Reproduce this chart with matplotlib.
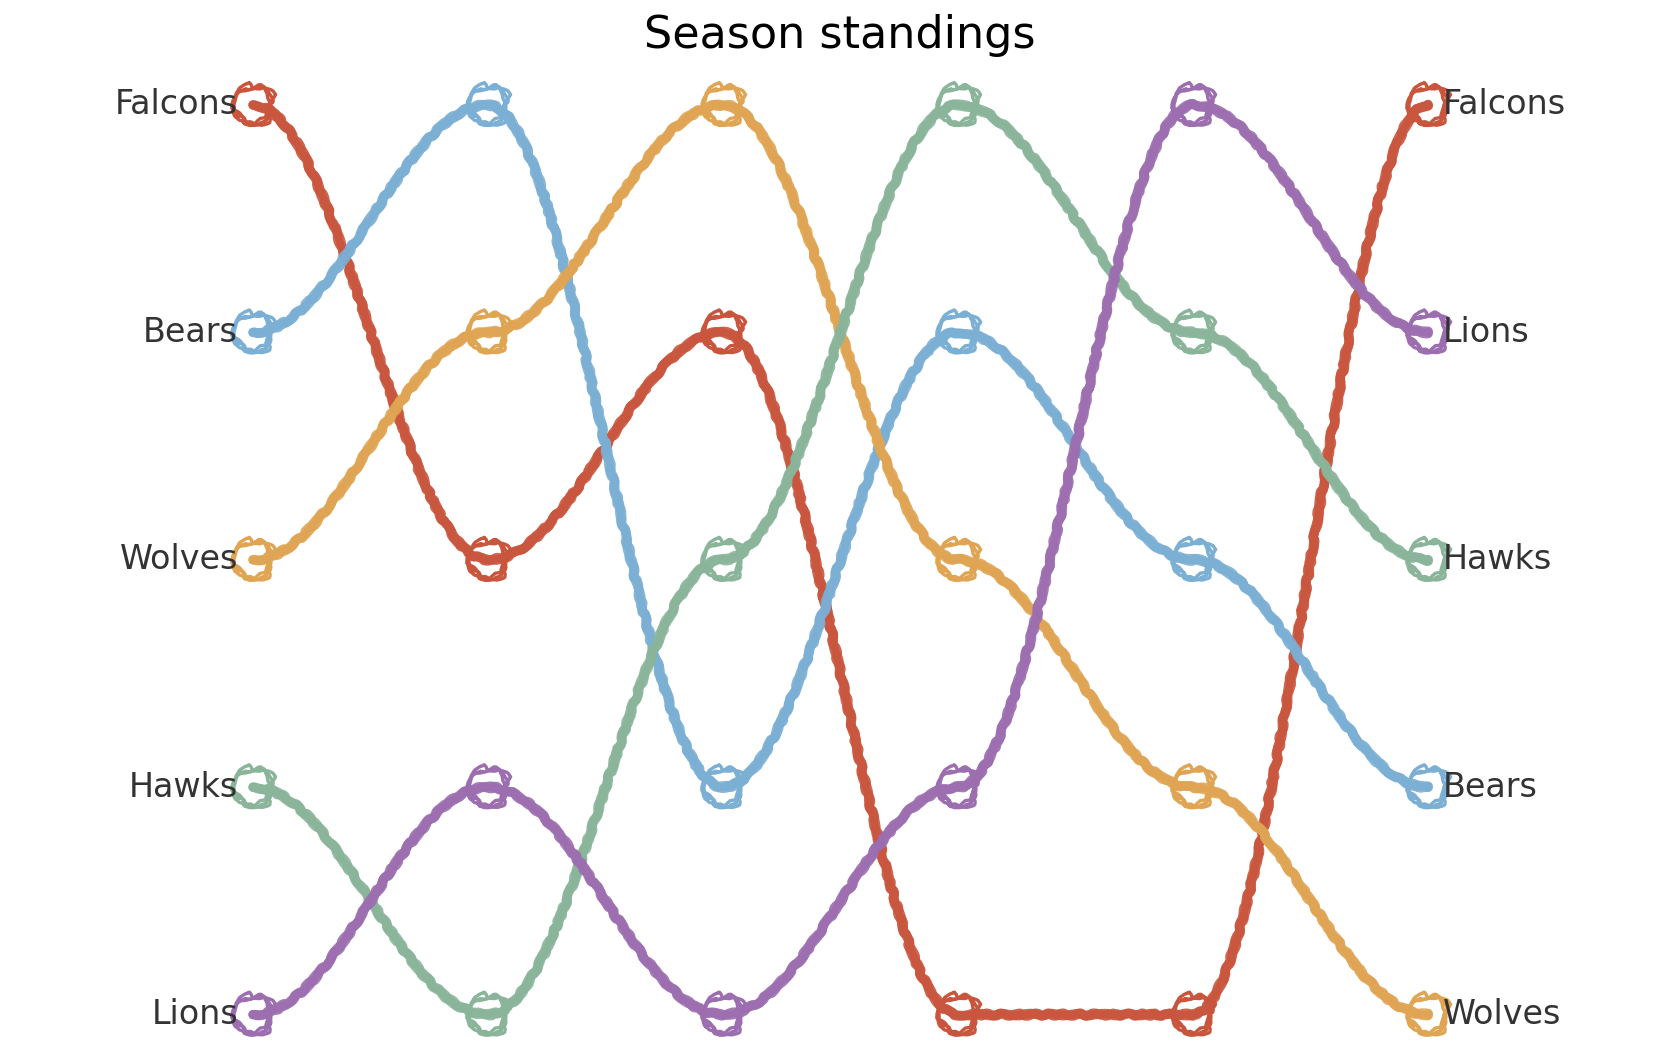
import numpy as np
import matplotlib
matplotlib.use('Agg')
import matplotlib.pyplot as plt

# Standings per round (1 = top)
teams = ['Falcons', 'Bears', 'Wolves', 'Hawks', 'Lions']
rounds = [0, 1, 2, 3, 4, 5]
falcons = [1, 3, 2, 5, 5, 1]
bears = [2, 1, 4, 2, 3, 4]
wolves = [3, 2, 1, 3, 4, 5]
hawks = [4, 5, 3, 1, 2, 3]
lions = [5, 4, 5, 4, 1, 2]
colors = ['#c9553d', '#7bafd4', '#e0a553', '#8ab59a', '#9c6eb0']

ranks = [falcons, bears, wolves, hawks, lions]

plt.rcParams['font.family'] = ['DejaVu Sans']

fig = plt.figure(figsize=(8.4, 5.28), dpi=200)
ax = fig.add_axes([0.0807, 0.0069, 0.8393, 0.926])


def smooth(xs, ys, n=60):
    # cosine easing between consecutive rounds
    out_x, out_y = [], []
    for i in range(len(xs) - 1):
        t = np.linspace(0, 1, n, endpoint=False)
        e = (1 - np.cos(np.pi * t)) / 2
        out_x.extend(xs[i] + (xs[i + 1] - xs[i]) * t)
        out_y.extend(ys[i] + (ys[i + 1] - ys[i]) * e)
    out_x.append(xs[-1])
    out_y.append(ys[-1])
    return out_x, out_y


# hand-drawn look: wobbly double stroke, rough polygon markers
marker_passes = [((5, 0, 10), 270, (3.0, 40, 3)),
                 ((6, 0, 40), 220, (2.5, 50, 3)),
                 ((7, 0, 75), 190, (2.0, 30, 3))]

for name, r, c in zip(teams, ranks, colors):
    sx, sy = smooth(rounds, r)
    for sk in [(1.4, 22, 4), (1.1, 35, 4)]:
        ln, = ax.plot(sx, sy, color=c, lw=3.4, alpha=0.9,
                      solid_capstyle='round', clip_on=False)
        ln.set_sketch_params(*sk)
    for mk, size, sk in marker_passes:
        sc = ax.scatter(rounds, r, s=size, marker=mk, facecolors='none',
                        edgecolors=c, linewidths=1.2, clip_on=False, zorder=3)
        sc.set_sketch_params(*sk)
    ax.text(rounds[0] - 0.064, r[0], name, ha='right', va='center',
            fontsize=12, color='#333333')
    ax.text(rounds[-1] + 0.064, r[-1], name, ha='left', va='center',
            fontsize=12, color='#333333')

ax.set_xlim(-0.5, 5.5)
ax.set_ylim(5.15, 0.85)
ax.axis('off')

fig.text(0.5, 1 - 35.5 / 1056, 'Season standings', ha='center', va='center',
         fontsize=16, color='black')

fig.savefig('out.png', dpi=200)
